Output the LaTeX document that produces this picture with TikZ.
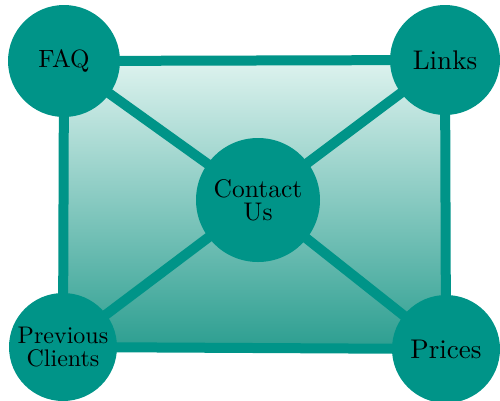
\documentclass[tikz,border=0pt]{standalone}
\usepackage{fontspec}
\setmainfont{lmroman10-regular.otf}
\usetikzlibrary{backgrounds}
\definecolor{teal1}{RGB}{0,148,136}
\definecolor{fillTop}{RGB}{222,243,239}
\definecolor{fillBot}{RGB}{44,158,144}
\tikzset{
  hub/.style={circle, fill=teal1, draw=none, inner sep=0pt, align=center, text=black},
  link/.style={draw=teal1, line width=10pt},
}
\begin{document}
\begin{tikzpicture}[x=1pt,y=-1pt]
\useasboundingbox (0,0) rectangle (500,400);
\node[hub, minimum size=112pt, font=\fontsize{25}{24}\selectfont] (faq) at (64,61) {FAQ};
\node[hub, minimum size=110pt, font=\fontsize{27}{24}\selectfont] (links) at (445,60) {Links};
\node[hub, minimum size=108pt, font=\fontsize{27}{24}\selectfont] (prices) at (446,349) {Prices};
\node[hub, minimum size=108pt, font=\fontsize{24}{23.3}\selectfont] (prev) at (63,347) {Previous\\Clients};
\node[hub, minimum size=124pt, font=\fontsize{25.5}{23}\selectfont] (cu) at (258,200) {Contact\\Us};
\begin{scope}[on background layer]
  \shade[top color=fillTop, bottom color=fillBot] (faq.center) -- (links.center) -- (prices.center) -- (prev.center) -- cycle;
  \draw[link] (faq.center) -- (links.center) -- (prices.center) -- (prev.center) -- cycle;
  \draw[link] (faq.center) -- (cu.center);
  \draw[link] (links.center) -- (cu.center);
  \draw[link] (prices.center) -- (cu.center);
  \draw[link] (prev.center) -- (cu.center);
\end{scope}
\end{tikzpicture}
\end{document}
